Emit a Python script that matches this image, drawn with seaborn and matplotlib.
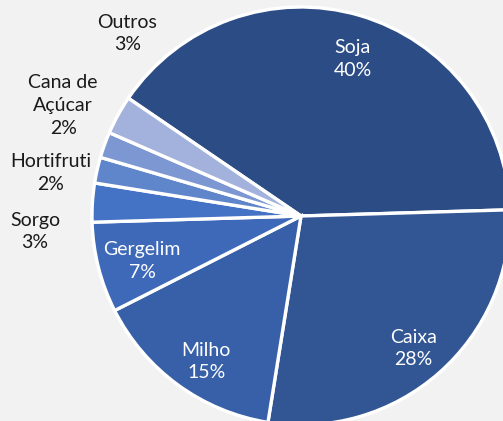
import numpy as np
import matplotlib.pyplot as plt
import seaborn as sns

# dados
categorias = ['Soja', 'Caixa', 'Milho', 'Gergelim', 'Sorgo', 'Hortifruti', 'Cana de\nAçúcar', 'Outros']
valores = [40, 28, 15, 7, 3, 2, 2, 3]
cores = ['#2C4C85', '#325694', '#3860A8', '#3E69B8', '#4472C4', '#5F85CB', '#7D97D2', '#A3B2DC']

sns.set_theme(style='white')
plt.rcParams['font.family'] = ['Lato', 'DejaVu Sans']

W, H = 503, 421
cx, cy, R = 301, 216, 209  # centro e raio em pixels

fig = plt.figure(figsize=(W / 100, H / 100), dpi=100, facecolor='#F2F2F2')
ax = fig.add_axes([0, 0, 1, 1])
ax.set_facecolor('#F2F2F2')

start = 145.7
wedges, _ = ax.pie(valores, colors=cores, startangle=start, counterclock=False,
                   radius=1, wedgeprops=dict(edgecolor='white', linewidth=2.4))

ax.set_xlim(-cx / R, (W - cx) / R)
ax.set_ylim(-(H - cy) / R, cy / R)
ax.set_aspect('equal')
ax.axis('off')

total = sum(valores)
# rótulos internos (4 primeiros) e externos (resto) com ajuste de raio/ângulo
raio_rot = [0.79, 0.83, 0.83, 0.79, 1.275, 1.215, 1.255, 1.205]
ajuste_ang = [-2, -1, 3, 1.5, 7, 3, -5, -17.5]
for i, (w, cat, v) in enumerate(zip(wedges, categorias, valores)):
    mid = (w.theta1 + w.theta2) / 2 + ajuste_ang[i]
    r = raio_rot[i]
    x, y = r * np.cos(np.radians(mid)), r * np.sin(np.radians(mid))
    cor_txt = 'white' if i < 4 else '#1A1A1A'
    ax.text(x, y, f'{cat}\n{round(100 * v / total)}%', ha='center', va='center',
            color=cor_txt, fontsize=14, linespacing=1.4, multialignment='center')

fig.savefig('out.png', dpi=100, facecolor=fig.get_facecolor())
